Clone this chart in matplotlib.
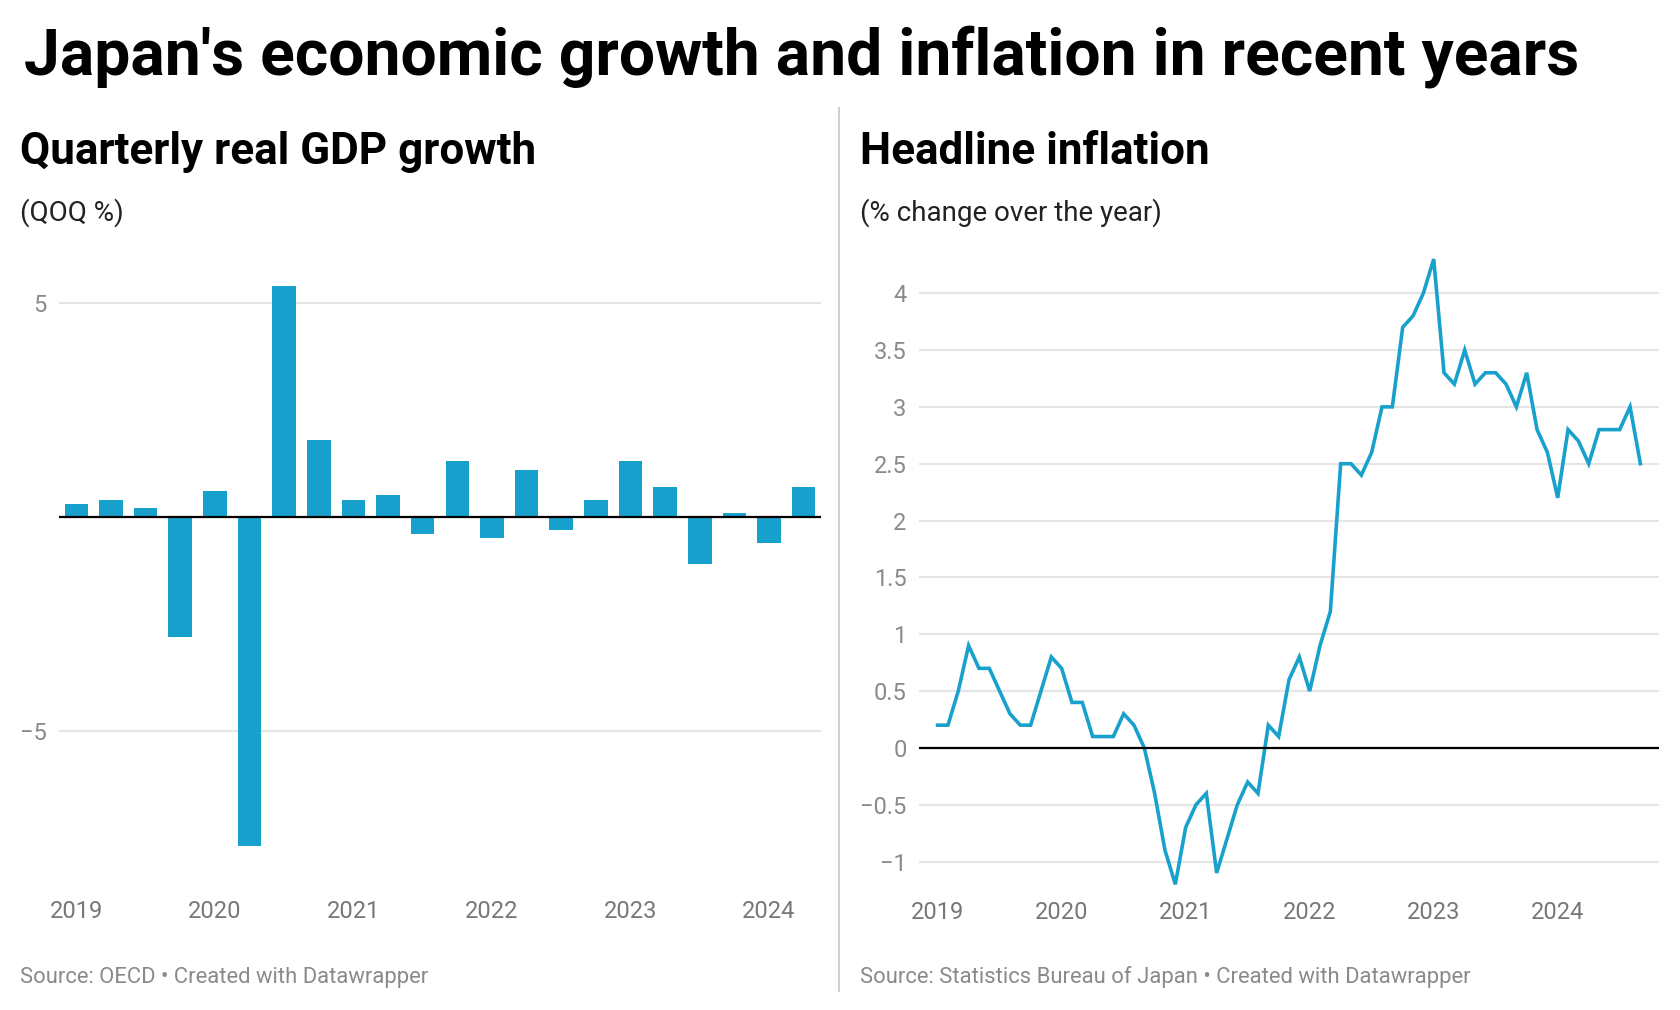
import matplotlib
matplotlib.use("Agg")
import matplotlib.pyplot as plt

plt.rcParams["font.family"] = ["Roboto", "DejaVu Sans"]

# Quarterly real GDP growth (QoQ %), Q1 2019 .. Q2 2024
gdp_growth = [0.3, 0.4, 0.2, -2.8, 0.6, -7.7, 5.4, 1.8, 0.4, 0.5, -0.4,
              1.3, -0.5, 1.1, -0.3, 0.4, 1.3, 0.7, -1.1, 0.1, -0.6, 0.7]

# Headline CPI (% y/y), Jan 2019 .. Sep 2024
cpi = [0.2, 0.2, 0.5, 0.9, 0.7, 0.7, 0.5, 0.3, 0.2, 0.2, 0.5, 0.8,
       0.7, 0.4, 0.4, 0.1, 0.1, 0.1, 0.3, 0.2, 0.0, -0.4, -0.9, -1.2,
       -0.7, -0.5, -0.4, -1.1, -0.8, -0.5, -0.3, -0.4, 0.2, 0.1, 0.6, 0.8,
       0.5, 0.9, 1.2, 2.5, 2.5, 2.4, 2.6, 3.0, 3.0, 3.7, 3.8, 4.0,
       4.3, 3.3, 3.2, 3.5, 3.2, 3.3, 3.3, 3.2, 3.0, 3.3, 2.8, 2.6,
       2.2, 2.8, 2.7, 2.5, 2.8, 2.8, 2.8, 3.0, 2.5]

years = ["2019", "2020", "2021", "2022", "2023", "2024"]
gdp_yticks = [5, -5]
cpi_yticks = [-1, -0.5, 0.5, 1, 1.5, 2, 2.5, 3, 3.5, 4]

BLUE = "#18a1cd"
GRID = "#e5e5e5"
TICK = "#8a8a8a"
W, H = 1680, 1010


def fig_rect(left, top, right, bottom):
    return [left / W, 1 - bottom / H, (right - left) / W, (bottom - top) / H]


def fmt(v):
    s = f"{v:g}"
    return s.replace("-", "\u2212")


fig = plt.figure(figsize=(W / 100, H / 100), dpi=100)

fig.text(24 / W, 1 - 74 / H, "Japan's economic growth and inflation in recent years",
         fontsize=46.2, fontweight="bold", va="baseline", ha="left")

fig.text(20 / W, 1 - 164 / H, "Quarterly real GDP growth", fontsize=31.7,
         fontweight="bold", va="baseline")
fig.text(20 / W, 1 - 221 / H, "(QOQ %)", fontsize=20, va="baseline", color="#222222")
fig.text(860 / W, 1 - 164 / H, "Headline inflation", fontsize=31.7,
         fontweight="bold", va="baseline")
fig.text(860 / W, 1 - 221 / H, "(% change over the year)", fontsize=20,
         va="baseline", color="#222222")

fig.text(20 / W, 1 - 977 / H, "Source: OECD \u2022 Created with Datawrapper",
         fontsize=15.85, color="#8a8a8a", va="center")
fig.text(860 / W, 1 - 977 / H,
         "Source: Statistics Bureau of Japan \u2022 Created with Datawrapper",
         fontsize=15.85, color="#8a8a8a", va="center")

# divider between the two panels
fig.add_artist(plt.Line2D([839 / W, 839 / W], [1 - 108 / H, 1 - 991 / H],
                          color="#d0d0d0", linewidth=1.5))

# --- left: GDP bars
ax1 = fig.add_axes(fig_rect(59, 270, 821, 860))
x = list(range(len(gdp_growth)))
ax1.bar(x, gdp_growth, width=0.68, color=BLUE, zorder=3)
ax1.axhline(0, color="black", linewidth=1.6, zorder=4)
ax1.set_xlim(-0.5, 21.5)
ax1.set_ylim(-8.02, 5.77)
ax1.set_yticks(gdp_yticks)
ax1.set_yticklabels([fmt(v) for v in gdp_yticks])
ax1.set_xticks([i * 4 for i in range(len(years))])
ax1.set_xticklabels(years)
ax1.tick_params(axis="y", length=0, pad=9, labelsize=17, labelcolor=TICK)
ax1.tick_params(axis="x", length=0, pad=29, labelsize=17, labelcolor="#777777")
ax1.grid(axis="y", color=GRID, linewidth=1.5, zorder=0)

# --- right: CPI line
ax2 = fig.add_axes(fig_rect(919, 250, 1659, 890))
months = list(range(len(cpi)))
ax2.plot(months, cpi, color=BLUE, linewidth=2.6, zorder=3, solid_joinstyle="miter")
ax2.axhline(0, color="black", linewidth=1.6, zorder=4)
ax2.set_xlim(-1.8, 69.8)
ax2.set_ylim(-1.25, 4.38)
ax2.set_yticks(cpi_yticks + [0])
ax2.set_yticklabels([fmt(v) for v in cpi_yticks + [0]])
ax2.set_xticks([i * 12 for i in range(len(years))])
ax2.set_xticklabels(years)
ax2.tick_params(axis="y", length=0, pad=9, labelsize=17, labelcolor=TICK)
ax2.tick_params(axis="x", length=0, pad=8, labelsize=17, labelcolor="#777777")
ax2.grid(axis="y", color=GRID, linewidth=1.5, zorder=0)

for ax in (ax1, ax2):
    for s in ax.spines.values():
        s.set_visible(False)
    ax.set_facecolor("none")

fig.savefig("out.png", dpi=100)
